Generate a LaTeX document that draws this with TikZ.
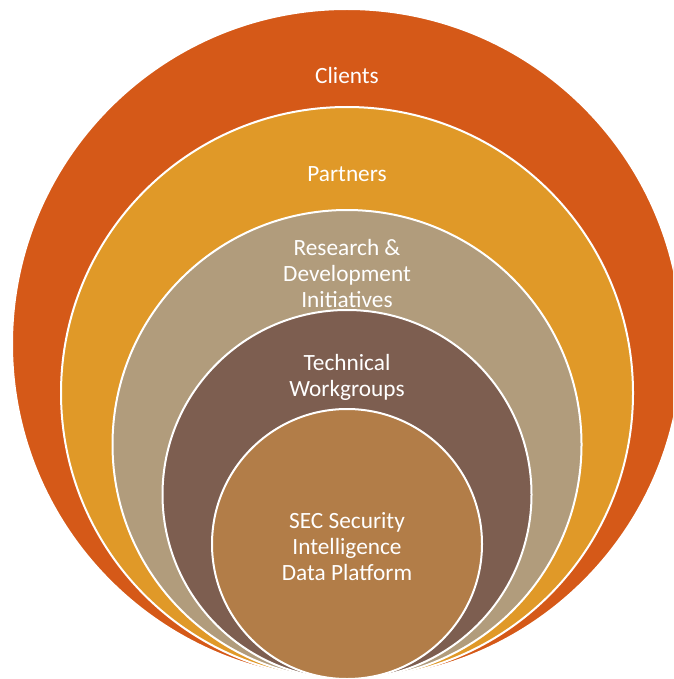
\documentclass[tikz,border=0pt]{standalone}
\usepackage{fontspec}
\setmainfont{Carlito}
\definecolor{cClients}{RGB}{213,89,24}
\definecolor{cPartners}{RGB}{224,153,40}
\definecolor{cResearch}{RGB}{177,156,124}
\definecolor{cTech}{RGB}{125,94,80}
\definecolor{cCore}{RGB}{178,125,72}
\begin{document}
\begin{tikzpicture}[x=1pt,y=-1pt,
  ring/.style={circle, draw=white, line width=2pt, inner sep=0pt, outer sep=0pt},
  lbl/.style={text=white, align=center, inner sep=0pt, font=\fontsize{23.3}{26}\selectfont}]
\useasboundingbox (0,0) rectangle (673,679);
\clip (0,0) rectangle (673,679);
\node[ring, fill=cClients, minimum size=670pt] (clients) at (347,344) {};
\node[ring, fill=cPartners, minimum size=572pt] (partners) at (347,393) {};
\node[ring, fill=cResearch, minimum size=469pt] (research) at (347,444.5) {};
\node[ring, fill=cTech, minimum size=369pt] (tech) at (347,494.5) {};
\node[ring, fill=cCore, minimum size=270pt] (core) at (347,544) {};
\node[lbl] (tclients) at (347,75) {Clients};
\node[lbl] (tpartners) at (347,174) {Partners};
\node[lbl] (tresearch) at (347,273) {Research \&\\Development\\Initiatives};
\node[lbl] (ttech) at (347,377.5) {Technical\\Workgroups};
\node[lbl] (tcore) at (347,547) {SEC Security\\Intelligence\\Data Platform};
\end{tikzpicture}
\end{document}
